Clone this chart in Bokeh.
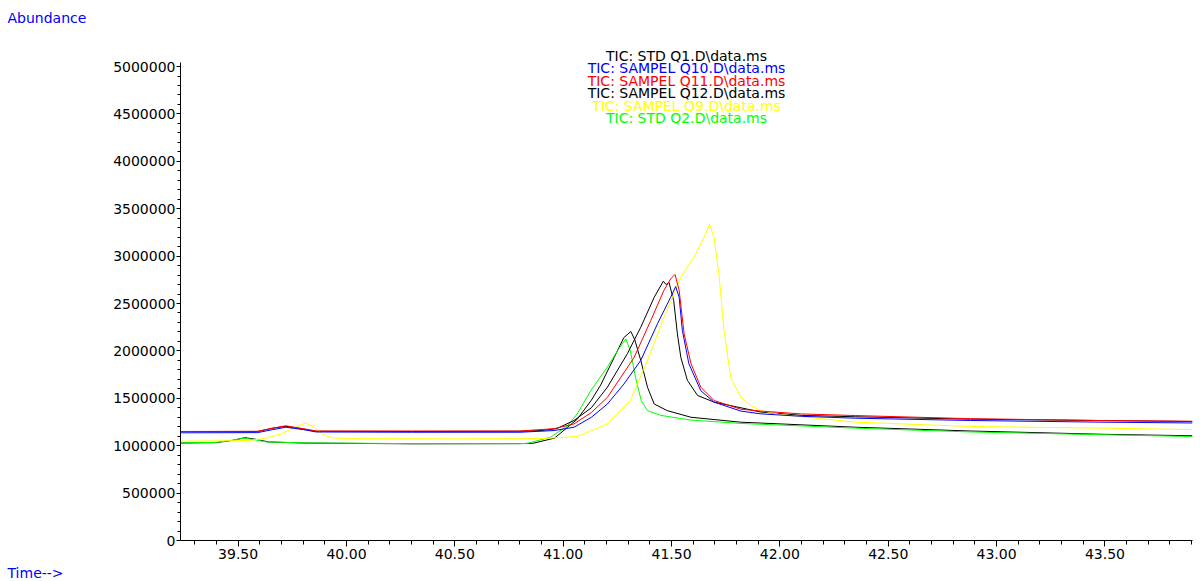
from bokeh.plotting import figure
from bokeh.models import FixedTicker, NumeralTickFormatter, Label, Range1d, Title
from bokeh.embed import file_html
from bokeh.resources import INLINE

# ---------------- data ----------------
series_names = [
    "TIC: STD Q1.D\\data.ms",
    "TIC: SAMPEL Q10.D\\data.ms",
    "TIC: SAMPEL Q11.D\\data.ms",
    "TIC: SAMPEL Q12.D\\data.ms",
    "TIC: SAMPEL Q9.D\\data.ms",
    "TIC: STD Q2.D\\data.ms",
]
series_colors = ["#000000", "#0000FF", "#FF0000", "#000000", "#FFFF00", "#00FF00"]

t_q1 = [39.234, 39.40, 39.48, 39.53, 39.58, 39.64, 39.80, 40.30, 40.80, 40.86, 40.96, 41.065,
        41.13, 41.173, 41.235, 41.28, 41.312, 41.33, 41.358, 41.389, 41.42, 41.48, 41.59,
        41.82, 42.35, 42.88, 43.50, 43.904]
a_q1 = [1028000, 1033000, 1058000, 1085000, 1068000, 1040000, 1028000, 1020000, 1022000,
        1025000, 1080000, 1280000, 1480000, 1640000, 1930000, 2140000, 2205000, 2120000,
        1900000, 1617000, 1440000, 1370000, 1300000, 1248000, 1195000, 1155000, 1120000,
        1105000]

t_q10 = [39.234, 39.59, 39.66, 39.72, 39.80, 39.86, 40.30, 40.80, 40.958, 41.05, 41.13,
         41.204, 41.28, 41.358, 41.435, 41.496, 41.519, 41.535, 41.55, 41.58, 41.635,
         41.696, 41.82, 41.912, 42.10, 42.35, 42.88, 43.50, 43.904]
a_q10 = [1136000, 1138000, 1170000, 1195000, 1170000, 1145000, 1142000, 1142000, 1160000,
         1195000, 1300000, 1440000, 1650000, 1900000, 2286000, 2566000, 2679000, 2566000,
         2215000, 1864000, 1580000, 1460000, 1365000, 1336000, 1310000, 1290000, 1266000,
         1248000, 1240000]

t_q11 = [39.234, 39.59, 39.66, 39.72, 39.80, 39.86, 40.30, 40.80, 40.958, 41.05, 41.13,
         41.204, 41.327, 41.404, 41.465, 41.496, 41.516, 41.535, 41.558, 41.59, 41.635,
         41.696, 41.82, 41.912, 42.10, 42.35, 42.88, 43.50, 43.904]
a_q11 = [1150000, 1152000, 1185000, 1210000, 1180000, 1155000, 1155000, 1155000, 1180000,
         1230000, 1350000, 1510000, 1930000, 2320000, 2640000, 2760000, 2806000, 2640000,
         2180000, 1864000, 1617000, 1477000, 1385000, 1365000, 1335000, 1318000, 1285000,
         1265000, 1258000]

t_q12 = [39.234, 39.59, 39.66, 39.72, 39.80, 39.86, 40.30, 40.80, 40.90, 40.97, 41.05,
         41.13, 41.204, 41.296, 41.358, 41.42, 41.462, 41.475, 41.488, 41.51, 41.527,
         41.543, 41.573, 41.62, 41.696, 41.82, 41.912, 42.10, 42.35, 42.88, 43.50, 43.904]
a_q12 = [1150000, 1150000, 1185000, 1205000, 1175000, 1152000, 1150000, 1152000, 1160000,
         1180000, 1266000, 1400000, 1617000, 1970000, 2250000, 2566000, 2735000, 2700000,
         2725000, 2530000, 2180000, 1930000, 1690000, 1530000, 1460000, 1400000, 1355000,
         1320000, 1305000, 1280000, 1265000, 1255000]

t_q9 = [39.234, 39.55, 39.62, 39.70, 39.76, 39.811, 39.85, 39.89, 39.93, 40.00, 40.50,
        40.90, 41.065, 41.204, 41.31, 41.389, 41.465, 41.543, 41.604, 41.65, 41.676,
        41.696, 41.72, 41.742, 41.773, 41.82, 41.865, 41.912, 42.00, 42.13, 42.35, 42.88,
        43.50, 43.904]
a_q9 = [1047000, 1055000, 1075000, 1125000, 1190000, 1240000, 1195000, 1120000, 1085000,
        1075000, 1072000, 1075000, 1097000, 1230000, 1477000, 1900000, 2355000, 2780000,
        2990000, 3200000, 3333000, 3200000, 2780000, 2215000, 1720000, 1510000, 1424000,
        1370000, 1330000, 1300000, 1248000, 1203000, 1185000, 1170000]

t_q2 = [39.234, 39.40, 39.48, 39.525, 39.57, 39.63, 39.80, 40.30, 40.80, 40.835, 40.942,
        41.02, 41.065, 41.127, 41.204, 41.25, 41.289, 41.31, 41.334, 41.36, 41.389, 41.45,
        41.59, 41.82, 42.35, 42.88, 43.50, 43.904]
a_q2 = [1030000, 1035000, 1060000, 1080000, 1065000, 1040000, 1030000, 1022000, 1022000,
        1025000, 1090000, 1210000, 1336000, 1580000, 1830000, 2000000, 2127000, 2000000,
        1720000, 1477000, 1370000, 1320000, 1270000, 1235000, 1185000, 1145000, 1115000,
        1097000]

x_major = [39.5, 40.0, 40.5, 41.0, 41.5, 42.0, 42.5, 43.0, 43.5]
x_minor = [39.3, 39.4, 39.6, 39.7, 39.8, 39.9, 40.1, 40.2, 40.3, 40.4, 40.6, 40.7, 40.8,
           40.9, 41.1, 41.2, 41.3, 41.4, 41.6, 41.7, 41.8, 41.9, 42.1, 42.2, 42.3, 42.4,
           42.6, 42.7, 42.8, 42.9, 43.1, 43.2, 43.3, 43.4, 43.6, 43.7, 43.8, 43.9]
y_major = [0, 500000, 1000000, 1500000, 2000000, 2500000, 3000000, 3500000, 4000000,
           4500000, 5000000]
y_minor = [v * 100000 for v in range(0, 51) if v % 5 != 0]

series_t = [t_q1, t_q10, t_q11, t_q12, t_q9, t_q2]
series_a = [a_q1, a_q10, a_q11, a_q12, a_q9, a_q2]
draw_order = [0, 5, 3, 4, 1, 2]

# ---------------- figure ----------------
FONT = "DejaVu Sans"
p = figure(width=1202, height=581, output_backend="svg", toolbar_location=None,
           x_range=Range1d(39.234, 43.904), y_range=Range1d(0, 5380000),
           min_border_left=180, min_border_right=10, min_border_top=30,
           min_border_bottom=41)
p.outline_line_color = None
p.grid.visible = False
p.background_fill_color = "white"
p.border_fill_color = "white"

p.title.text = "Abundance"
p.title.align = "left"
p.title.offset = -173
p.title.text_color = "#0000FF"
p.title.text_font = FONT
p.title.text_font_size = "14px"
p.title.text_font_style = "normal"

for i in draw_order:
    p.line(series_t[i], series_a[i], line_color=series_colors[i], line_width=1)

p.xaxis.ticker = FixedTicker(ticks=x_major, minor_ticks=x_minor)
p.yaxis.ticker = FixedTicker(ticks=y_major, minor_ticks=y_minor)
p.xaxis.formatter = NumeralTickFormatter(format="0.00")
p.yaxis.formatter = NumeralTickFormatter(format="0")
p.yaxis.bounds = (0, 5042000)

for ax in (p.xaxis, p.yaxis):
    ax.axis_line_color = "black"
    ax.major_tick_line_color = "black"
    ax.minor_tick_line_color = "black"
    ax.major_tick_in = 0
    ax.minor_tick_in = 0
    ax.major_label_text_font = FONT
    ax.major_label_text_font_size = "14px"
    ax.major_label_text_color = "black"

p.xaxis.major_tick_out = 6
p.xaxis.minor_tick_out = 4
p.xaxis.major_label_standoff = 2
p.yaxis.major_tick_out = 4
p.yaxis.minor_tick_out = 3
p.yaxis.major_label_standoff = 1

# legend as coloured centred text
row_y = [485, 472.5, 460, 447.5, 435, 422.5]
for name, col, yy in zip(series_names, series_colors, row_y):
    p.add_layout(Label(x=506, y=yy, x_units="screen", y_units="screen", text=name,
                       text_color=col, text_font=FONT, text_font_size="14px",
                       text_align="center", text_baseline="middle"))

p.add_layout(Title(text="Time-->", align="left", offset=-173, standoff=2,
                   text_color="#0000FF", text_font=FONT, text_font_size="14px",
                   text_font_style="normal"),
             "below")

open("out.html", "w").write(file_html(p, INLINE))
